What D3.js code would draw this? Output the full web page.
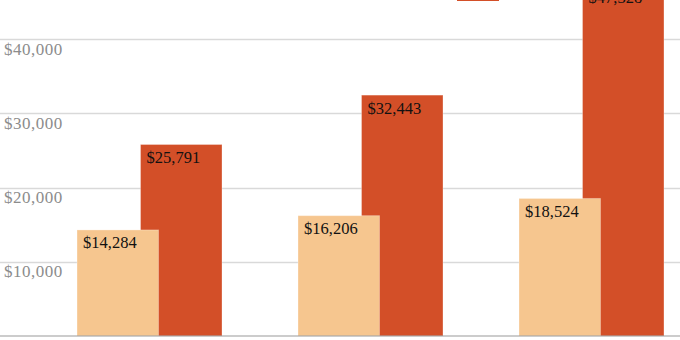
<!DOCTYPE html>
<html>
<head>
<meta charset="utf-8">
<script src="https://cdn.jsdelivr.net/npm/d3@7"></script>
<style>
  html, body { margin: 0; padding: 0; background: #fff; }
  svg { display: block; }
</style>
</head>
<body>
<svg id="chart" width="680" height="340"></svg>
<script>
const categories = ["Group 1", "Group 2", "Group 3"];
const seriesNames = ["Series A", "Series B"];
const seriesA = [14284, 16206, 18524];
const seriesB = [25791, 32443, 47328];
const yTicks = [10000, 20000, 30000, 40000];
const colors = ["#F6C68F", "#D34F28"];

const W = 680, H = 340;
const svg = d3.select("#chart");

const y = d3.scaleLinear().domain([0, 40000]).range([336, 39]);
const x = d3.scaleBand().domain(categories).range([32, 709]).paddingInner(0.344).paddingOuter(0.2037);
const bw = x.bandwidth();
const barW = bw * 0.562;
const offB = bw - barW;

const fmt = v => "$" + d3.format(",")(v);

// gridlines
svg.append("g").selectAll("line").data(yTicks).join("line")
  .attr("x1", 0).attr("x2", W)
  .attr("y1", d => Math.round(y(d)) + 0.5).attr("y2", d => Math.round(y(d)) + 0.5)
  .attr("stroke", "#d9d9d9").attr("stroke-width", 1.5);

// y labels
svg.append("g").selectAll("text").data(yTicks).join("text")
  .attr("x", 4).attr("y", d => y(d) + 15.5)
  .attr("font-family", "Liberation Serif, serif").attr("font-size", 17)
  .attr("letter-spacing", 0.5).attr("fill", "#8c8c8c")
  .text(fmt);

// legend swatch (partially visible)
svg.append("rect").attr("x", 457).attr("y", -11).attr("width", 42).attr("height", 12)
  .attr("fill", colors[1]);

// bars: series B first (behind), then series A
const gB = svg.append("g");
gB.selectAll("rect").data(seriesB).join("rect")
  .attr("x", (d, i) => x(categories[i]) + offB)
  .attr("y", d => y(d))
  .attr("width", barW)
  .attr("height", d => y(0) - y(d))
  .attr("fill", colors[1])
  .attr("stroke", "rgba(255,255,255,0.3)").attr("stroke-width", 1);

const gA = svg.append("g");
gA.selectAll("rect").data(seriesA).join("rect")
  .attr("x", (d, i) => x(categories[i]))
  .attr("y", d => y(d))
  .attr("width", barW)
  .attr("height", d => y(0) - y(d))
  .attr("fill", colors[0])
  .attr("stroke", "rgba(255,255,255,0.3)").attr("stroke-width", 1);

// labels
gB.selectAll("text").data(seriesB).join("text")
  .attr("x", (d, i) => x(categories[i]) + offB + 6)
  .attr("y", d => y(d) + 18.5)
  .attr("font-family", "Liberation Serif, serif").attr("font-size", 16.5)
  .attr("fill", "#111")
  .text(fmt);

gA.selectAll("text").data(seriesA).join("text")
  .attr("x", (d, i) => x(categories[i]) + 6)
  .attr("y", d => y(d) + 18.5)
  .attr("font-family", "Liberation Serif, serif").attr("font-size", 16.5)
  .attr("fill", "#111")
  .text(fmt);

// baseline
svg.append("line").attr("x1", 0).attr("x2", W)
  .attr("y1", 336).attr("y2", 336)
  .attr("stroke", "#999").attr("stroke-width", 1.2);
</script>
</body>
</html>
